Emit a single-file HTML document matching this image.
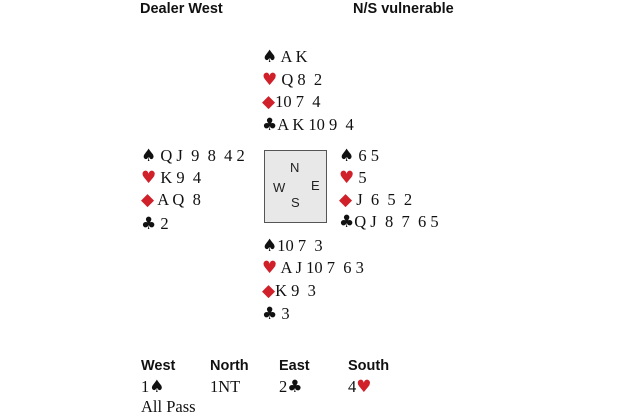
<!DOCTYPE html>
<html><head><meta charset="utf-8"><style>
body{margin:0;width:620px;height:413px;background:#fff;position:relative;overflow:hidden;font-family:"Liberation Serif",serif;font-size:16.5px;color:#111}
.a{position:absolute;white-space:pre;line-height:18px}
.h{font-family:"Liberation Sans",sans-serif;font-weight:bold;font-size:14.5px}
.r{color:#d0202a}
.s{font-family:"DejaVu Sans",sans-serif;font-size:17px}
.box{position:absolute;left:264px;top:150px;width:61px;height:71px;background:#e8e8e8;border:1px solid #555}
.c{position:absolute;font-family:"Liberation Sans",sans-serif;font-size:13px;color:#222}
</style></head><body>
<div class="a h" style="left:140px;top:0px">Dealer West</div>
<div class="a h" style="left:353px;top:0px">N/S vulnerable</div>

<div class="a" style="left:262px;top:48px"><span class="s">♠</span> A K</div>
<div class="a" style="left:262px;top:71px"><span class="s r">♥</span> Q 8  2</div>
<div class="a" style="left:262px;top:93px"><span class="s r">◆</span>10 7  4</div>
<div class="a" style="left:262px;top:116px"><span class="s">♣</span>A K 10 9  4</div>

<div class="a" style="left:141px;top:147px"><span class="s">♠</span> Q J  9  8  4 2</div>
<div class="a" style="left:141px;top:169px"><span class="s r">♥</span> K 9  4</div>
<div class="a" style="left:141px;top:191px"><span class="s r">◆</span> A Q  8</div>
<div class="a" style="left:141px;top:215px"><span class="s">♣</span> 2</div>

<div class="box"></div>
<div class="c" style="left:290px;top:160px">N</div>
<div class="c" style="left:273px;top:180px">W</div>
<div class="c" style="left:311px;top:178px">E</div>
<div class="c" style="left:291px;top:195px">S</div>

<div class="a" style="left:339px;top:147px"><span class="s">♠</span> 6 5</div>
<div class="a" style="left:339px;top:169px"><span class="s r">♥</span> 5</div>
<div class="a" style="left:339px;top:191px"><span class="s r">◆</span> J  6  5  2</div>
<div class="a" style="left:339px;top:213px"><span class="s">♣</span>Q J  8  7  6 5</div>

<div class="a" style="left:262px;top:237px"><span class="s">♠</span>10 7  3</div>
<div class="a" style="left:262px;top:259px"><span class="s r">♥</span> A J 10 7  6 3</div>
<div class="a" style="left:262px;top:282px"><span class="s r">◆</span>K 9  3</div>
<div class="a" style="left:262px;top:305px"><span class="s">♣</span> 3</div>

<div class="a h" style="left:141px;top:357px">West</div>
<div class="a h" style="left:210px;top:357px">North</div>
<div class="a h" style="left:279px;top:357px">East</div>
<div class="a h" style="left:348px;top:357px">South</div>
<div class="a" style="left:141px;top:378px">1<span class="s">♠</span></div>
<div class="a" style="left:210px;top:378px">1NT</div>
<div class="a" style="left:279px;top:378px">2<span class="s">♣</span></div>
<div class="a" style="left:348px;top:378px">4<span class="s r">♥</span></div>
<div class="a" style="left:141px;top:398px">All Pass</div>
</body></html>
